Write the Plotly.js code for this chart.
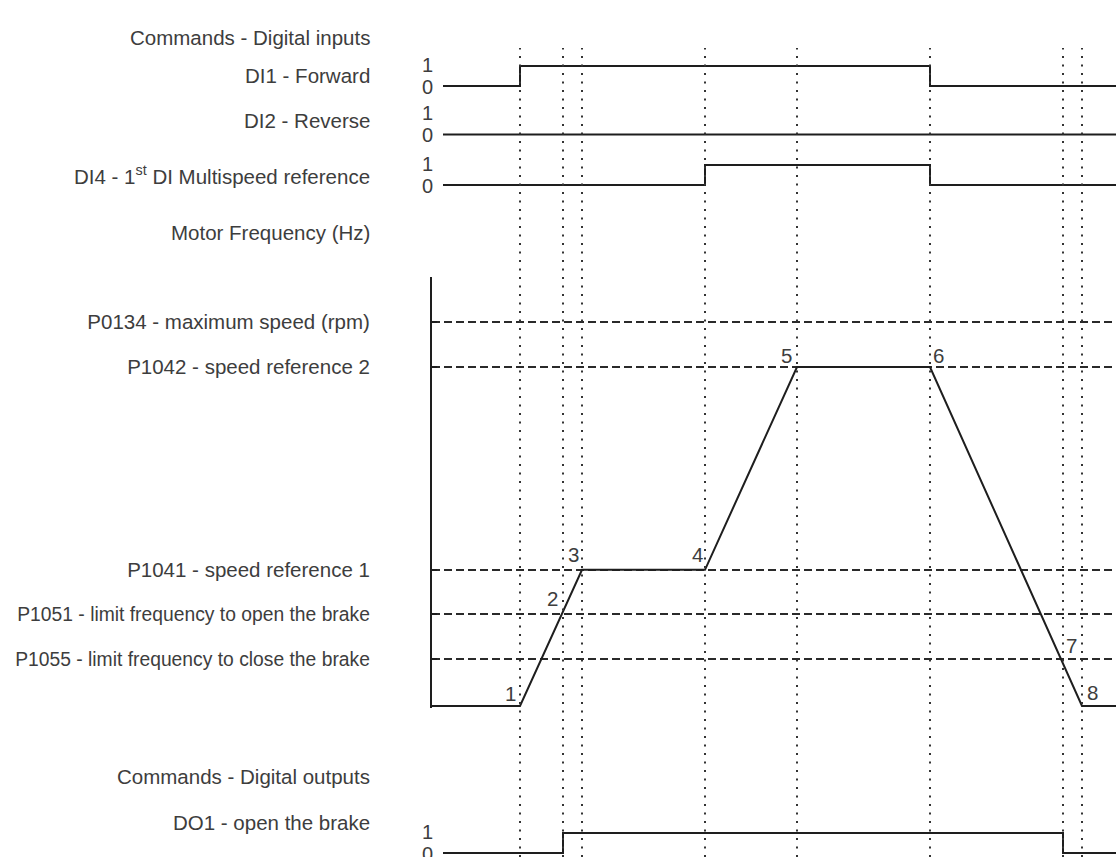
<!DOCTYPE html>
<html>
<head>
<meta charset="utf-8">
<script src="https://cdn.plot.ly/plotly-3.0.1.min.js"></script>
<style>html,body{margin:0;padding:0;background:#fff}#chart{width:1116px;height:857px}</style>
</head>
<body>
<div id="chart"></div>
<script>
// ---------- data ----------
// event instants (s) marked by dotted lines and numbered 1..8
const eventLabels = ['1', '2', '3', '4', '5', '6', '7', '8'];
const eventTimes = [0.88, 1.31, 1.50, 2.73, 3.65, 4.98, 6.31, 6.50];

// digital inputs
const di1Name = 'DI1 - Forward';
const di1Times = [0.11, 0.88, 4.98, 6.84];
const di1Levels = [0, 1, 0, 0];

const di2Name = 'DI2 - Reverse';
const di2Times = [0.11, 6.84];
const di2Levels = [0, 0];

const di4Name = 'DI4 - 1<sup>st</sup> DI Multispeed reference';
const di4Times = [0.11, 2.73, 4.98, 6.84];
const di4Levels = [0, 1, 0, 0];

// digital output
const do1Name = 'DO1 - open the brake';
const do1Times = [0.11, 1.31, 6.31, 6.84];
const do1Levels = [0, 1, 0, 0];

// motor frequency (Hz)
const freqTimes = [0, 0.88, 1.50, 2.73, 3.65, 4.98, 6.50, 6.84];
const freqValues = [0, 0, 22.7, 22.7, 56.5, 56.5, 0, 0];

// reference levels (Hz)
const refNames = [
  'P0134 - maximum speed (rpm)',
  'P1042 - speed reference 2',
  'P1041 - speed reference 1',
  'P1051 - limit frequency to open the brake',
  'P1055 - limit frequency to close the brake'
];
const refValues = [64, 56.5, 22.7, 15.3, 7.8];

const levelTicks = ['0', '1'];

// ---------- layout helpers ----------
const W = 1116, H = 857, L = 432;
const FONT = '"Liberation Sans", Arial, Helvetica, sans-serif';
const FS = 20.5;
const TXT = '#3d3d3d';
const LINE = '#1e1e1e';

function dom(zeroPx, ppu, lo, hi) {
  return [1 - (zeroPx - lo * ppu) / H, 1 - (zeroPx - hi * ppu) / H];
}
function py(px) { return 1 - px / H; }
function px2paperX(px) { return (px - L) / (W - L); }

const digRange = [-0.3, 1.3];
const rows = [
  {name: di1Name, t: di1Times, v: di1Levels, axis: 'y',  zero: 86,    labelPx: 75},
  {name: di2Name, t: di2Times, v: di2Levels, axis: 'y2', zero: 134.5, labelPx: 121},
  {name: di4Name, t: di4Times, v: di4Levels, axis: 'y3', zero: 185,   labelPx: 175},
  {name: do1Name, t: do1Times, v: do1Levels, axis: 'y4', zero: 853,   labelPx: 822}
];

const traces = [];
const annotations = [];
const layout = {
  width: W, height: H,
  margin: {l: L, r: 0, t: 0, b: 0, pad: 0},
  paper_bgcolor: '#fff', plot_bgcolor: '#fff',
  showlegend: false,
  font: {family: FONT, size: FS, color: TXT},
  xaxis: {range: [0, 6.84], visible: false, fixedrange: true}
};

rows.forEach((r, i) => {
  const key = i === 0 ? 'yaxis' : 'yaxis' + (i + 1);
  const lo = (i === 3) ? -0.2 : digRange[0];
  layout[key] = {
    domain: dom(r.zero, 20, lo, digRange[1]),
    range: [lo, digRange[1]],
    visible: false, fixedrange: true
  };
  traces.push({
    x: r.t, y: r.v, xaxis: 'x', yaxis: r.axis,
    mode: 'lines', line: {shape: 'hv', color: LINE, width: 2},
    hoverinfo: 'skip'
  });
  levelTicks.forEach((lab, k) => {
    annotations.push({
      text: lab, xref: 'paper', yref: r.axis, x: px2paperX(435), y: k,
      yshift: k === 1 ? 1 : -1,
      xanchor: 'right', yanchor: 'middle', showarrow: false,
      font: {size: 20, color: TXT}
    });
  });
  annotations.push({
    text: r.name, xref: 'paper', yref: 'paper', x: px2paperX(372), y: py(r.labelPx),
    xanchor: 'right', yanchor: 'middle', showarrow: false,
    font: {size: FS, color: TXT}
  });
});

// long reference names are set slightly smaller so they fit the left margin
const refTickText = refNames.map(n => n.length > 35 ? '<span style="font-size:19.3px">' + n + '</span>' : n);

// frequency axis: 0 Hz at 706 px, 6 px per Hz
layout.yaxis5 = {
  domain: dom(706, 6, -0.35, 71.5),
  range: [-0.35, 71.5],
  anchor: 'x', fixedrange: true,
  showline: true, linecolor: LINE, linewidth: 2,
  zeroline: false,
  tickmode: 'array', tickvals: refValues, ticktext: refTickText,
  ticks: 'inside', ticklen: 5, tickwidth: 1.5, tickcolor: LINE,
  ticklabelstandoff: 56,
  tickfont: {family: FONT, size: FS, color: TXT},
  showgrid: true, gridcolor: '#2a2a2a', gridwidth: 1.6, griddash: '8px,4px'
};
traces.push({
  x: freqTimes, y: freqValues, xaxis: 'x', yaxis: 'y5',
  mode: 'lines', line: {color: LINE, width: 2},
  hoverinfo: 'skip'
});

// numbered events on the frequency curve
const eventLevel = [0, refValues[3], refValues[2], refValues[2], refValues[1], refValues[1], refValues[4], 0];
const eventShift = [[-10, 13], [-11, 16], [-9, 15], [-8, 15], [-11, 12], [8, 12], [8, 14], [10, 14]];
eventLabels.forEach((lab, i) => {
  annotations.push({
    text: lab, xref: 'x', yref: 'y5', x: eventTimes[i], y: eventLevel[i],
    xshift: eventShift[i][0], yshift: eventShift[i][1],
    xanchor: 'center', yanchor: 'middle', showarrow: false,
    font: {size: FS, color: TXT}
  });
});

// section titles
[['Commands - Digital inputs', 37], ['Motor Frequency (Hz)', 232], ['Commands - Digital outputs', 776]]
  .forEach(([t, p]) => annotations.push({
    text: t, xref: 'paper', yref: 'paper', x: px2paperX(372), y: py(p),
    xanchor: 'right', yanchor: 'middle', showarrow: false,
    font: {size: FS, color: TXT}
  }));

layout.annotations = annotations;

// dotted vertical event markers
layout.shapes = eventTimes.map(t => ({
  type: 'line', xref: 'x', yref: 'paper', x0: t, x1: t, y0: 0, y1: py(48),
  line: {color: '#333', width: 2, dash: '2px,6.5px'}, layer: 'above'
}));

Plotly.newPlot('chart', traces, layout, {staticPlot: true, displayModeBar: false});
</script>
</body>
</html>
